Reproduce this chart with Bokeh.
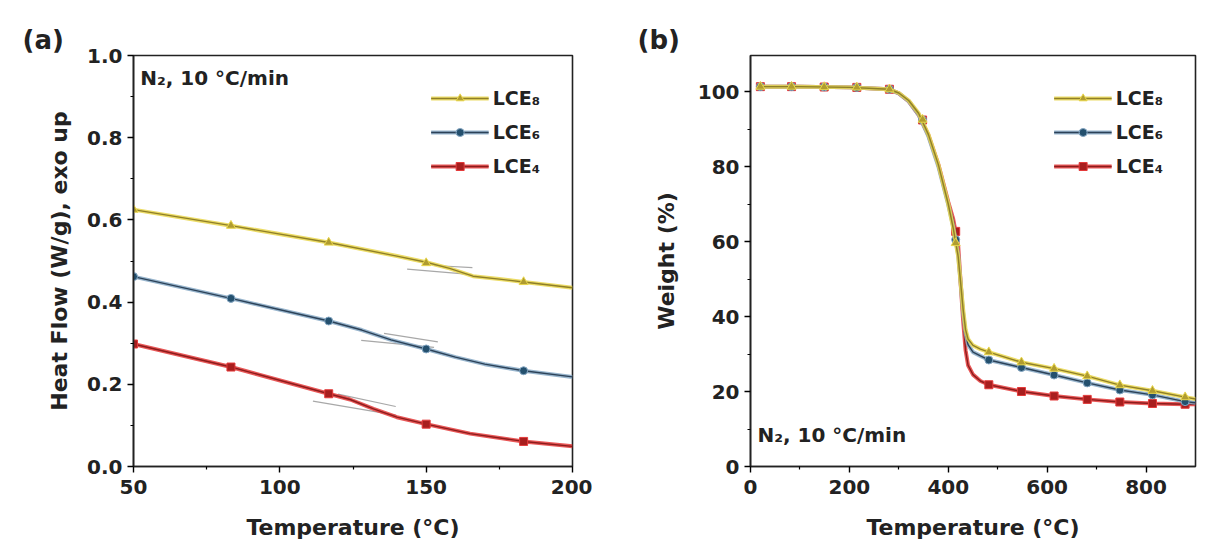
from bokeh.plotting import figure
from bokeh.layouts import row
from bokeh.models import (Label, Legend, LegendItem, Range1d, FixedTicker,
                          PrintfTickFormatter, Title)
from bokeh.embed import file_html
from bokeh.resources import INLINE

# ---------------- data: panel (a) DSC ----------------
dsc_mark_T = [50, 83.3, 116.7, 150, 183.3]
dsc8_mark = [0.625, 0.586, 0.545, 0.495, 0.449]
dsc6_mark = [0.462, 0.409, 0.354, 0.286, 0.233]
dsc4_mark = [0.298, 0.242, 0.177, 0.103, 0.061]

dsc8_T = [50, 83.3, 116.7, 140, 150, 158, 166, 175, 183.3, 200]
dsc8_v = [0.625, 0.586, 0.545, 0.512, 0.497, 0.482, 0.463, 0.456, 0.449, 0.435]
dsc6_T = [50, 83.3, 116.7, 128, 138, 150, 160, 170, 183.3, 200]
dsc6_v = [0.462, 0.409, 0.354, 0.332, 0.308, 0.286, 0.266, 0.249, 0.233, 0.218]
dsc4_T = [50, 83.3, 116.7, 124, 132, 140, 150, 165, 183.3, 200]
dsc4_v = [0.298, 0.242, 0.177, 0.163, 0.140, 0.120, 0.103, 0.080, 0.061, 0.049]

# tangent construction lines (x0, x1, y0, y1)
tan_x0 = [143.5, 152.7, 127.8, 135.6, 111.3, 119.9]
tan_x1 = [165.8, 165.8, 152.7, 154.0, 139.6, 139.6]
tan_y0 = [0.480, 0.489, 0.307, 0.324, 0.159, 0.176]
tan_y1 = [0.467, 0.484, 0.290, 0.303, 0.125, 0.146]

# ---------------- data: panel (b) TGA ----------------
tga_mark_T = [20, 83, 149, 215, 281, 348, 415, 482, 548, 614, 681, 747, 813, 879]
tga8_mark = [101.3, 101.3, 101.2, 101.1, 100.6, 92.5, 59.6, 30.5, 27.8, 26.1, 24.1, 21.7, 20.2, 18.5]
tga6_mark = [101.3, 101.3, 101.2, 101.1, 100.6, 92.4, 60.5, 28.4, 26.4, 24.4, 22.3, 20.4, 19.1, 17.3]
tga4_mark = [101.3, 101.3, 101.2, 101.1, 100.6, 92.4, 62.7, 21.8, 20.0, 18.8, 17.9, 17.2, 16.8, 16.6]

tga_T = [20, 100, 200, 280, 300, 320, 340, 360, 380, 400, 410, 420, 425, 430, 435, 440,
         450, 465, 482, 548, 614, 681, 747, 813, 879, 900]
tga8_v = [101.3, 101.3, 101.1, 100.6, 99.6, 97.6, 94.2, 88.5, 80.5, 70.0, 63.5, 56.0,
          49.0, 42.0, 36.5, 34.0, 32.3, 31.3, 30.5, 27.8, 26.1, 24.1, 21.7, 20.2, 18.5, 18.0]
tga6_v = [101.3, 101.3, 101.1, 100.6, 99.5, 97.4, 93.8, 88.0, 80.0, 69.8, 64.0, 56.5,
          49.0, 41.0, 35.5, 32.5, 30.5, 29.5, 28.4, 26.4, 24.4, 22.3, 20.4, 19.1, 17.3, 17.0]
tga4_v = [101.3, 101.3, 101.1, 100.6, 99.5, 97.4, 93.8, 88.3, 80.5, 70.5, 66.0, 59.0,
          49.0, 39.0, 31.0, 27.0, 24.5, 22.8, 21.8, 20.0, 18.8, 17.9, 17.2, 16.8, 16.6, 16.6]

labels = ["LCE\u2088", "LCE\u2086", "LCE\u2084"]
halo = ["#e9d64c", "#86a8c4", "#e43a3a"]
core = ["#8f7f28", "#2c4258", "#8c1c1c"]
mfill = ["#b09c30", "#24506e", "#a81e1e"]
markers = ["triangle", "circle", "square"]

FONT = "DejaVu Sans"


def style(p, xlabel, ylabel, ystandoff):
    p.outline_line_color = "#222222"
    p.outline_line_width = 1.6
    p.outline_line_alpha = 1.0
    p.grid.visible = False
    p.background_fill_color = "white"
    p.border_fill_color = "white"
    for ax in (p.xaxis[0], p.yaxis[0]):
        ax.axis_line_width = 1.6
        ax.axis_line_color = "#222222"
        ax.major_tick_line_width = 1.4
        ax.minor_tick_line_width = 1.2
        ax.major_tick_out = 6
        ax.major_tick_in = 0
        ax.minor_tick_out = 3
        ax.minor_tick_in = 0
        ax.major_label_text_font = FONT
        ax.major_label_text_font_style = "bold"
        ax.major_label_text_font_size = "20px"
        ax.major_label_text_color = "#222222"
        ax.axis_label_text_font = FONT
        ax.axis_label_text_font_style = "bold"
        ax.axis_label_text_font_size = "22px"
        ax.axis_label_text_color = "#222222"
    p.xaxis.axis_label = xlabel
    p.yaxis.axis_label = ylabel
    p.xaxis.major_label_standoff = 7
    p.xaxis.axis_label_standoff = 18
    p.yaxis.axis_label_standoff = ystandoff


def add_series(p, T, v, mT, mv, i):
    r1 = p.line(T, v, line_color=halo[i], line_width=4, line_alpha=0.85)
    r2 = p.line(T, v, line_color=core[i], line_width=1.4)
    r3 = p.scatter(mT, mv, marker=markers[i], size=9 if i == 0 else 8,
                   fill_color=mfill[i], line_color=halo[i], line_width=1)
    return LegendItem(label=labels[i], renderers=[r1, r2, r3])


def make_legend(p, items):
    lg = Legend(items=items, location="top_right")
    lg.background_fill_alpha = 0
    lg.border_line_alpha = 0
    lg.margin = 17
    lg.padding = 15
    lg.spacing = 12
    lg.glyph_width = 58
    lg.glyph_height = 20
    lg.label_height = 20
    lg.label_standoff = 4
    lg.label_text_font = FONT
    lg.label_text_font_style = "bold"
    lg.label_text_font_size = "19px"
    lg.label_text_color = "#222222"
    p.add_layout(lg)


# ---------------- panel (a) ----------------
pa = figure(frame_width=439, frame_height=411, output_backend="svg", toolbar_location=None,
            x_range=Range1d(50, 200), y_range=Range1d(0, 1.0),
            min_border_left=133, min_border_right=20, min_border_top=55, min_border_bottom=76)
style(pa, "Temperature (\u00b0C)", "Heat Flow (W/g), exo up", 12)
pa.xaxis.ticker = FixedTicker(ticks=[50, 100, 150, 200], minor_ticks=[75, 125, 175])
pa.yaxis.ticker = FixedTicker(ticks=[0, 0.2, 0.4, 0.6, 0.8, 1.0],
                              minor_ticks=[0.1, 0.3, 0.5, 0.7, 0.9])
pa.yaxis.formatter = PrintfTickFormatter(format="%.1f")

pa.segment(tan_x0, tan_y0, tan_x1, tan_y1, line_color="#a8a8a8", line_width=1.2)
items_a = [add_series(pa, dsc8_T, dsc8_v, dsc_mark_T, dsc8_mark, 0),
           add_series(pa, dsc6_T, dsc6_v, dsc_mark_T, dsc6_mark, 1),
           add_series(pa, dsc4_T, dsc4_v, dsc_mark_T, dsc4_mark, 2)]
make_legend(pa, items_a)
pa.add_layout(Label(x=52.3, y=0.946, text="N\u2082, 10 \u00b0C/min", text_font=FONT,
                    text_font_style="bold", text_font_size="20px", text_color="#222222",
                    text_baseline="middle"))
pa.add_layout(Title(text="(a)", align="left", offset=-111, text_font=FONT,
                    text_font_style="bold", text_font_size="26px",
                    text_color="#222222", standoff=2), "above")

# ---------------- panel (b) ----------------
pb = figure(frame_width=445, frame_height=411, output_backend="svg", toolbar_location=None,
            x_range=Range1d(0, 900), y_range=Range1d(0, 109.6),
            min_border_left=158, min_border_right=8, min_border_top=55, min_border_bottom=76)
style(pb, "Temperature (\u00b0C)", "Weight (%)", 16)
pb.xaxis.ticker = FixedTicker(ticks=[0, 200, 400, 600, 800], minor_ticks=[100, 300, 500, 700])
pb.yaxis.ticker = FixedTicker(ticks=[0, 20, 40, 60, 80, 100], minor_ticks=[10, 30, 50, 70, 90])

items_b = [None, None, None]
items_b[2] = add_series(pb, tga_T, tga4_v, tga_mark_T, tga4_mark, 2)
items_b[1] = add_series(pb, tga_T, tga6_v, tga_mark_T, tga6_mark, 1)
items_b[0] = add_series(pb, tga_T, tga8_v, tga_mark_T, tga8_mark, 0)
make_legend(pb, items_b)
pb.add_layout(Label(x=14, y=8.3, text="N\u2082, 10 \u00b0C/min", text_font=FONT,
                    text_font_style="bold", text_font_size="20px", text_color="#222222",
                    text_baseline="middle"))
pb.add_layout(Title(text="(b)", align="left", offset=-113, text_font=FONT,
                    text_font_style="bold", text_font_size="26px",
                    text_color="#222222", standoff=2), "above")

layout = row(pa, pb)
open("out.html", "w").write(file_html(layout, INLINE))
